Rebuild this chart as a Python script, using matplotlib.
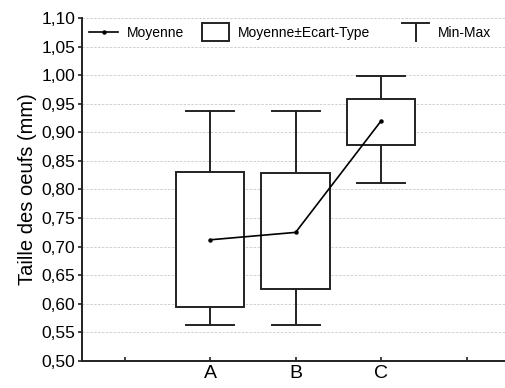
import matplotlib
matplotlib.use("Agg")
import matplotlib.pyplot as plt
from matplotlib.lines import Line2D
from matplotlib.patches import Patch, Rectangle
from matplotlib.legend import Legend
from matplotlib.legend_handler import HandlerBase
from matplotlib.ticker import FuncFormatter

groups = ["A", "B", "C"]
means = [0.712, 0.725, 0.920]
sd_low = [0.595, 0.626, 0.877]
sd_high = [0.831, 0.828, 0.959]
mins = [0.563, 0.563, 0.812]
maxs = [0.937, 0.937, 0.999]

plt.rcParams["font.family"] = ["Liberation Sans", "DejaVu Sans"]
INK = "#222222"
HALF = 6.5  # half height of legend glyphs, points


class BoxHandler(HandlerBase):
    def create_artists(self, legend, orig, xd, yd, w, h, fs, trans):
        cy = -yd + h / 2
        return [Rectangle((-xd, cy - HALF), w, 2 * HALF, facecolor="white",
                          edgecolor=INK, lw=1.4, transform=trans)]


class TeeHandler(HandlerBase):
    def create_artists(self, legend, orig, xd, yd, w, h, fs, trans):
        cy = -yd + h / 2
        bar = Line2D([-xd, -xd + w], [cy + HALF] * 2, color=INK, lw=1.4, transform=trans)
        stem = Line2D([-xd + w / 2] * 2, [cy + HALF, cy - HALF], color=INK, lw=1.4, transform=trans)
        return [bar, stem]


fig = plt.figure(figsize=(5.05, 3.88), dpi=100)
ax = fig.add_axes([0.1624, 0.0696, 0.8376, 0.884])

pos = [1, 2, 3]
bw, cw = 0.8, 0.56
for x, lo, hi, mn, mx in zip(pos, sd_low, sd_high, mins, maxs):
    ax.add_patch(Rectangle((x - bw / 2, lo), bw, hi - lo, facecolor="white",
                           edgecolor=INK, lw=1.4, zorder=3))
    ax.plot([x, x], [hi, mx], color=INK, lw=1.4, zorder=3)
    ax.plot([x, x], [mn, lo], color=INK, lw=1.4, zorder=3)
    ax.plot([x - cw / 2, x + cw / 2], [mx, mx], color=INK, lw=1.4, zorder=3)
    ax.plot([x - cw / 2, x + cw / 2], [mn, mn], color=INK, lw=1.4, zorder=3)
ax.plot(pos, means, color="black", lw=1.2, marker="o", ms=2.2, zorder=4)

ax.set_xlim(-0.5, 4.45)
ax.set_ylim(0.5, 1.10)
ax.set_yticks([0.5 + 0.05 * i for i in range(13)])
ax.yaxis.set_major_formatter(FuncFormatter(lambda v, p: f"{v:.2f}".replace(".", ",")))
ax.set_xticks([0, 1, 2, 3, 4])
ax.set_xticklabels(["", "A", "B", "C", ""])
ax.tick_params(axis="x", direction="in", length=3, width=1.2, color=INK, labelsize=14, pad=3)
ax.tick_params(axis="y", direction="out", length=3, width=1.2, color=INK, labelsize=12.5, pad=2)
ax.set_ylabel("Taille des oeufs (mm)", fontsize=14.5, labelpad=3)
ax.yaxis.grid(True, linestyle=(0, (2.5, 1.5)), color="#d0d0d0", lw=0.7)
ax.set_axisbelow(True)
for s in ("top", "right"):
    ax.spines[s].set_visible(False)
for s in ("left", "bottom"):
    ax.spines[s].set_color(INK)
    ax.spines[s].set_linewidth(1.4)

mean_h = Line2D([], [], color="black", lw=1.2, marker="o", ms=2.2)
box_h = Patch(facecolor="white", edgecolor=INK)
tee_h = Line2D([], [], color=INK)
entries = [(mean_h, "Moyenne", 0.0165, 2.1),
           (box_h, "Moyenne±Ecart-Type", 0.284, 1.95),
           (tee_h, "Min-Max", 0.757, 1.95)]
for h, lab, x0, hl in entries:
    leg = Legend(ax, [h], [lab], frameon=False, loc="center left",
                 bbox_to_anchor=(x0, 0.956), borderpad=0, borderaxespad=0,
                 fontsize=10, handlelength=hl, handletextpad=0.65,
                 handler_map={box_h: BoxHandler(), tee_h: TeeHandler()})
    ax.add_artist(leg)

fig.savefig("out.png", facecolor="white")
